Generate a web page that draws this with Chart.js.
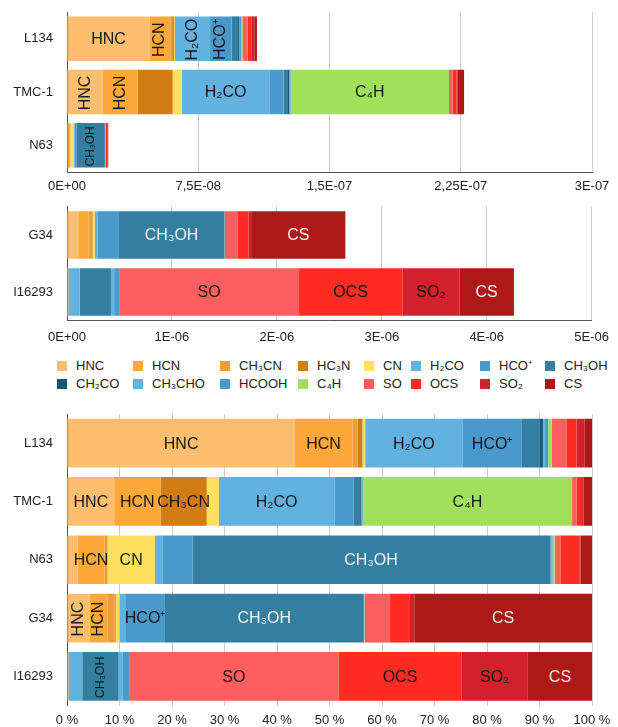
<!DOCTYPE html>
<html>
<head>
<meta charset="utf-8">
<script src="https://cdn.jsdelivr.net/npm/chart.js@4.4.1/dist/chart.umd.min.js"></script>
<style>
  html, body { margin: 0; padding: 0; background: #fff; }
  #page { position: relative; width: 618px; height: 727px; overflow: hidden;
          font-family: "Liberation Sans", Arimo, Arial, Helvetica, sans-serif; }
  #page canvas { position: absolute; left: 0; }
  .li { position: absolute; height: 16px; font-size: 13px; line-height: 16px; color: #222; white-space: nowrap; }
  .li i { position: absolute; left: 0; top: 3px; width: 10px; height: 10px; }
  .li span { position: absolute; left: 19px; top: 0; }
</style>
</head>
<body>
<div id="page">
  <canvas id="absDark" width="618" height="200" style="top:0px"></canvas>
  <canvas id="absHot" width="618" height="145" style="top:200px"></canvas>
  <div id="legend"></div>
  <canvas id="share" width="618" height="327" style="top:400px"></canvas>
</div>
<script>
// Sources and molecules
const darkClouds = ['L134', 'TMC-1', 'N63'];
const hotSources = ['G34', 'I16293'];
const sources = ['L134', 'TMC-1', 'N63', 'G34', 'I16293'];
const species = ['HNC', 'HCN', 'CH₃CN', 'HC₃N', 'CN', 'H₂CO', 'HCO⁺', 'CH₃OH',
                 'CH₂CO', 'CH₃CHO', 'HCOOH', 'C₄H', 'SO', 'OCS', 'SO₂', 'CS'];
const colors = ['#FDBF6F', '#FDA838', '#EE9E32', '#D27D14', '#FEDF5E', '#63B1DF', '#499ACB', '#347EA0',
                '#185676', '#64B2E0', '#4A9BCC', '#A0E05A', '#FE5E5E', '#FF2C24', '#D1212C', '#AC1917'];

// Abundances relative to H2, in units of 1E-09, same order as species
const L134   = [47.1, 11.9, 1.1, 1.0, 0.55, 20.1, 12.3, 3.7, 0.65, 0.45, 0.65, 0.75, 3.0, 2.1, 1.7, 1.5];
const TMC1   = [20.4, 20.0, 0, 20.0, 5.2, 50.0, 8.2, 2.5, 0.7, 0.5, 0.3, 90.5, 2.0, 2.3, 0.7, 3.6];
const N63    = [0.47, 1.22, 0.07, 0.05, 2.14, 0.35, 1.34, 16.0, 0.05, 0.05, 0.05, 0.09, 0.26, 0.85, 0.05, 0.52];
const G34    = [114, 90, 37, 5, 19, 29, 201, 1004, 2, 1, 1, 1, 125, 100, 26, 898];
const I16293 = [6, 6, 0, 0, 0, 110, 2, 295, 0, 30, 55, 0, 1700, 995, 540, 520];

// Axis tick labels
const darkTicks  = ['0E+00', '7,5E-08', '1,5E-07', '2,25E-07', '3E-07'];
const hotTicks   = ['0E+00', '1E-06', '2E-06', '3E-06', '4E-06', '5E-06'];
const shareTicks = ['0 %', '10 %', '20 %', '30 %', '40 %', '50 %', '60 %', '70 %', '80 %', '90 %', '100 %'];

// Names written inside the bar segments
const INK = '#151515', PALE = '#f2f2f2';
const darkNames = [
  { src: 'L134', sp: 'HNC', text: 'HNC' },
  { src: 'L134', sp: 'HCN', text: 'HCN', vertical: true },
  { src: 'L134', sp: 'H₂CO', text: 'H₂CO', vertical: true },
  { src: 'L134', sp: 'HCO⁺', text: 'HCO⁺', vertical: true },
  { src: 'TMC-1', sp: 'HNC', text: 'HNC', vertical: true },
  { src: 'TMC-1', sp: 'HCN', text: 'HCN', vertical: true },
  { src: 'TMC-1', sp: 'H₂CO', text: 'H₂CO' },
  { src: 'TMC-1', sp: 'C₄H', text: 'C₄H' },
  { src: 'N63', sp: 'CH₃OH', text: 'CH₃OH', vertical: true, size: 12 }
];
const hotNames = [
  { src: 'G34', sp: 'CH₃OH', text: 'CH₃OH', color: PALE },
  { src: 'G34', sp: 'CS', text: 'CS', color: PALE },
  { src: 'I16293', sp: 'SO', text: 'SO' },
  { src: 'I16293', sp: 'OCS', text: 'OCS' },
  { src: 'I16293', sp: 'SO₂', text: 'SO₂' },
  { src: 'I16293', sp: 'CS', text: 'CS', color: PALE }
];
const shareNames = [
  { src: 'L134', sp: 'HNC', text: 'HNC' },
  { src: 'L134', sp: 'HCN', text: 'HCN' },
  { src: 'L134', sp: 'H₂CO', text: 'H₂CO' },
  { src: 'L134', sp: 'HCO⁺', text: 'HCO⁺' },
  { src: 'TMC-1', sp: 'HNC', text: 'HNC' },
  { src: 'TMC-1', sp: 'HCN', text: 'HCN' },
  { src: 'TMC-1', sp: 'HC₃N', text: 'CH₃CN' },
  { src: 'TMC-1', sp: 'H₂CO', text: 'H₂CO' },
  { src: 'TMC-1', sp: 'C₄H', text: 'C₄H' },
  { src: 'N63', sp: 'HCN', text: 'HCN' },
  { src: 'N63', sp: 'CN', text: 'CN' },
  { src: 'N63', sp: 'CH₃OH', text: 'CH₃OH', color: PALE },
  { src: 'G34', sp: 'HNC', text: 'HNC', vertical: true },
  { src: 'G34', sp: 'HCN', text: 'HCN', vertical: true },
  { src: 'G34', sp: 'HCO⁺', text: 'HCO⁺' },
  { src: 'G34', sp: 'CH₃OH', text: 'CH₃OH', color: PALE },
  { src: 'G34', sp: 'CS', text: 'CS', color: PALE },
  { src: 'I16293', sp: 'CH₃OH', text: 'CH₃OH', vertical: true, size: 12.5 },
  { src: 'I16293', sp: 'SO', text: 'SO' },
  { src: 'I16293', sp: 'OCS', text: 'OCS' },
  { src: 'I16293', sp: 'SO₂', text: 'SO₂' },
  { src: 'I16293', sp: 'CS', text: 'CS', color: PALE }
];

const FONT = '"Liberation Sans", Arimo, Arial, Helvetica, sans-serif';
Chart.defaults.font.family = FONT;

// Draws each name at the centre of its stacked segment
const segmentNames = {
  id: 'segmentNames',
  afterDatasetsDraw(chart, args, opts) {
    const ctx = chart.ctx;
    (opts.items || []).forEach(it => {
      const di = chart.data.datasets.findIndex(d => d.label === it.sp);
      const ci = chart.data.labels.indexOf(it.src);
      if (di < 0 || ci < 0) return;
      const bar = chart.getDatasetMeta(di).data[ci];
      if (!bar) return;
      const cx = (bar.x + bar.base) / 2;
      const cy = bar.y + 1;
      ctx.save();
      ctx.translate(cx, cy);
      if (it.vertical) ctx.rotate(-Math.PI / 2);
      ctx.font = (it.size || 16) + 'px ' + FONT;
      ctx.fillStyle = it.color || INK;
      ctx.textAlign = 'center';
      ctx.textBaseline = 'middle';
      ctx.fillText(it.text, 0, 0);
      ctx.restore();
    });
  }
};

function drawStack(id, cats, rows, opt) {
  const datasets = species.map((name, k) => ({
    label: name,
    data: rows.map(r => r[k]),
    backgroundColor: colors[k],
    borderWidth: 0,
    barPercentage: 0.835,
    categoryPercentage: 1
  }));
  return new Chart(document.getElementById(id), {
    type: 'bar',
    data: { labels: cats, datasets },
    options: {
      indexAxis: 'y',
      responsive: false,
      animation: false,
      devicePixelRatio: 1,
      layout: { padding: { top: opt.top, right: 26, bottom: 0, left: 0 } },
      plugins: {
        legend: { display: false },
        tooltip: { enabled: false },
        segmentNames: { items: opt.names }
      },
      scales: {
        x: {
          stacked: true, min: 0, max: opt.max,
          ticks: {
            stepSize: opt.step, autoSkip: false, maxRotation: 0, minRotation: 0,
            padding: opt.tickPad, color: '#222', font: { size: 13 },
            callback: (v, i) => opt.ticks[i]
          },
          grid: { color: '#cccccc', lineWidth: 1, drawTicks: false },
          border: { display: opt.xBorder, color: '#555', width: 1 },
          afterFit: a => { a.height = opt.axisH; }
        },
        y: {
          stacked: true,
          ticks: { padding: 14, color: '#222', font: { size: 13 } },
          grid: { display: false, drawTicks: false },
          border: { display: true, color: '#555', width: 1 },
          afterFit: a => { a.width = 67; a.paddingTop = 0; a.paddingBottom = 0; }
        }
      }
    },
    plugins: [segmentNames]
  });
}

const rowsBySource = { 'L134': L134, 'TMC-1': TMC1, 'N63': N63, 'G34': G34, 'I16293': I16293 };

drawStack('absDark', darkClouds, darkClouds.map(s => rowsBySource[s]), {
  top: 12, axisH: 28, max: 300, step: 75, ticks: darkTicks, tickPad: 7, xBorder: true, names: darkNames
});
drawStack('absHot', hotSources, hotSources.map(s => rowsBySource[s]), {
  top: 6.5, axisH: 24.5, max: 5000, step: 1000, ticks: hotTicks, tickPad: 9, xBorder: true, names: hotNames
});
const shares = sources.map(s => {
  const r = rowsBySource[s];
  const total = r.reduce((a, b) => a + b, 0);
  return r.map(v => 100 * v / total);
});
drawStack('share', sources, shares, {
  top: 14, axisH: 21.5, max: 100, step: 10, ticks: shareTicks, tickPad: 7, xBorder: false, names: shareNames
});

// Legend: two rows of eight swatches
const legendCols = [57, 133, 220, 298, 364, 411, 480, 545];
const legendRows = [358, 375.5];
const legend = document.getElementById('legend');
species.forEach((name, k) => {
  const item = document.createElement('div');
  item.className = 'li';
  item.style.left = legendCols[k % 8] + 'px';
  item.style.top = legendRows[Math.floor(k / 8)] + 'px';
  const sw = document.createElement('i');
  sw.style.background = colors[k];
  const tx = document.createElement('span');
  tx.textContent = name;
  item.appendChild(sw);
  item.appendChild(tx);
  legend.appendChild(item);
});
</script>
</body>
</html>
